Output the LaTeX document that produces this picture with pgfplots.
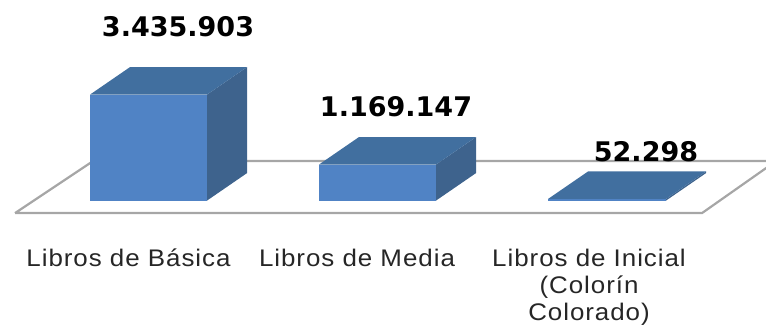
\documentclass[border=0pt]{standalone}
\usepackage{pgfplots}
\pgfplotsset{compat=1.18}
\usepackage{fontspec}
\setmainfont{Liberation Sans}
\newfontfamily\catfont[FakeStretch=1.08,LetterSpace=4]{Liberation Sans}
\newfontfamily\valfont{DejaVu Sans}[BoldFont={DejaVu Sans Bold}]
\definecolor{barfront}{HTML}{5083C5}
\definecolor{bartop}{HTML}{416F9F}
\definecolor{barside}{HTML}{3E638D}
\definecolor{floorline}{HTML}{A6A6A6}
\begin{document}
\begin{tikzpicture}
\begin{axis}[
  scale only axis, width=766pt, height=324pt,
  xmin=0, xmax=766, ymin=-4003129, ymax=6499007,
  axis line style={draw=none}, major tick length=0pt,
  ytick=\empty,
  xtick={128.5,357,589},
  xticklabels={Libros de Básica,Libros de Media,{Libros de Inicial\\(Colorín\\Colorado)}},
  xticklabel style={font=\catfont\fontsize{24}{27}\selectfont, align=center, anchor=north, yshift=75pt, inner sep=0pt, text=black!85},
  clip=true,
]
% floor
\addplot[draw=floorline, line width=2.2pt] coordinates {(15,-405175)(702,-405175)(776,1280353)(93,1280353)(15,-405175)};
% Libros de Básica: 3435903
\addplot[draw=none, fill=barside] coordinates {(207,0)(247,891385)(247,4327288)(207,3435903)} -- cycle;
\addplot[draw=none, fill=bartop] coordinates {(90,3435903)(207,3435903)(247,4327288)(130,4327288)} -- cycle;
\addplot[draw=none, fill=barfront] coordinates {(90,0)(207,0)(207,3435903)(90,3435903)} -- cycle;
% Libros de Media: 1169147
\addplot[draw=none, fill=barside] coordinates {(436,0)(476,891385)(476,2060532)(436,1169147)} -- cycle;
\addplot[draw=none, fill=bartop] coordinates {(319,1169147)(436,1169147)(476,2060532)(359,2060532)} -- cycle;
\addplot[draw=none, fill=barfront] coordinates {(319,0)(436,0)(436,1169147)(319,1169147)} -- cycle;
% Libros de Inicial: 52298
\addplot[draw=none, fill=barside] coordinates {(666,0)(706,891385)(706,943683)(666,52298)} -- cycle;
\addplot[draw=none, fill=bartop] coordinates {(548,52298)(666,52298)(706,943683)(588,943683)} -- cycle;
\addplot[draw=none, fill=barfront] coordinates {(548,0)(666,0)(666,52298)(548,52298)} -- cycle;
% value labels
\node[font=\valfont\bfseries\fontsize{27}{30}\selectfont, text=black] at (axis cs:178,5640000) {3.435.903};
\node[font=\valfont\bfseries\fontsize{27}{30}\selectfont, text=black] at (axis cs:396,3040000) {1.169.147};
\node[font=\valfont\bfseries\fontsize{27}{30}\selectfont, text=black] at (axis cs:646,1570000) {52.298};
\end{axis}
\end{tikzpicture}
\end{document}
